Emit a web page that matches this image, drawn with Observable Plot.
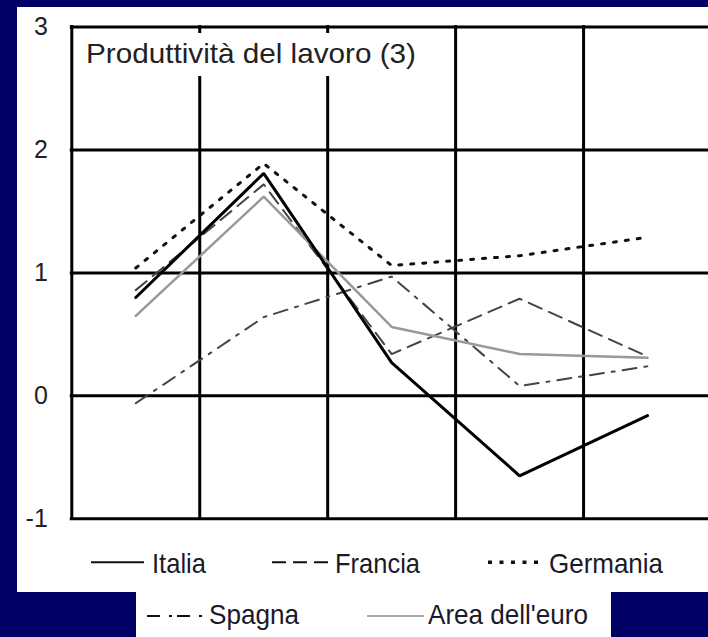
<!DOCTYPE html>
<html>
<head>
<meta charset="utf-8">
<script src="https://cdn.jsdelivr.net/npm/d3@7"></script>
<script src="https://cdn.jsdelivr.net/npm/@observablehq/plot@0.6"></script>
<style>
  html, body { margin: 0; padding: 0; }
  body { width: 708px; height: 637px; background: #000066; position: relative; overflow: hidden;
         font-family: "Liberation Sans", Arial, Helvetica, sans-serif; }
  #panel { position: absolute; left: 17px; top: 7px; width: 691px; height: 585px; background: #fff; }
  #panel2 { position: absolute; left: 136px; top: 592px; width: 475px; height: 45px; background: #fff; }
  #chart { position: absolute; left: 17px; top: 7px; }
  #overlay { position: absolute; left: 0; top: 0; pointer-events: none; }
</style>
</head>
<body>
<div id="panel"></div>
<div id="panel2"></div>
<div id="chart"></div>
<svg id="overlay" width="708" height="637"></svg>
<script>
// ---- data ----
const periods = [1, 2, 3, 4, 5];
const italia   = [0.80, 1.81, 0.27, -0.65, -0.16];
const francia  = [0.86, 1.72, 0.34, 0.79, 0.32];
const germania = [1.04, 1.89, 1.06, 1.14, 1.29];
const spagna   = [-0.06, 0.64, 0.97, 0.08, 0.24];
const euro     = [0.65, 1.62, 0.56, 0.34, 0.31];
const seriesNames = ["Italia", "Francia", "Germania", "Spagna", "Area dell'euro"];
const yTicks = [-1, 0, 1, 2, 3];
const yTickLabels = ["-1", "0", "1", "2", "3"];
const titleText = "Produttività del lavoro (3)";

// ---- styles ----
const styles = {
  "Italia":         {stroke: "#000", strokeWidth: 3,   dash: null,       legendWidth: 2,   legendDash: null},
  "Francia":        {stroke: "#444", strokeWidth: 2,   dash: "14,8",     legendWidth: 2,   legendDash: "14,7"},
  "Germania":       {stroke: "#111", strokeWidth: 3,   dash: "3,9",      legendWidth: 3.5, legendDash: "4,7.5"},
  "Spagna":         {stroke: "#444", strokeWidth: 2,   dash: "14,8,3,8", legendWidth: 2,   legendDash: "13,9,3,5"},
  "Area dell'euro": {stroke: "#999", strokeWidth: 2.5, dash: null,       legendWidth: 2,   legendDash: null}
};
const values = {"Italia": italia, "Francia": francia, "Germania": germania, "Spagna": spagna, "Area dell'euro": euro};

// band boundaries between periods
const xBounds = periods.map(p => p - 0.5).concat([periods[periods.length - 1] + 0.5]);

const drawOrder = ["Spagna", "Francia", "Germania", "Area dell'euro", "Italia"];

const chart = Plot.plot({
  width: 691,
  height: 585,
  marginLeft: 54.3,
  marginRight: 0,
  marginTop: 19.5,
  marginBottom: 73.7,
  style: {background: "white", fontSize: "25px", fontFamily: "'Liberation Sans', Arial, sans-serif", color: "#222", overflow: "hidden"},
  x: {domain: [xBounds[0], xBounds[xBounds.length - 1]], range: [54.3, 694], axis: null},
  y: {domain: [-1, 3], ticks: yTicks, tickSize: 0, tickPadding: 24, tickFormat: d => yTickLabels[yTicks.indexOf(d)], label: null},
  marks: [
    Plot.ruleY(yTicks, {stroke: "#000", strokeWidth: 3, strokeLinecap: "square"}),
    Plot.ruleX(xBounds, {stroke: "#000", strokeWidth: 3, strokeLinecap: "square"}),
    ...drawOrder.map(name => Plot.line(periods, {
      x: d => d,
      y: (d, i) => values[name][i],
      stroke: styles[name].stroke,
      strokeWidth: styles[name].strokeWidth,
      strokeDasharray: styles[name].dash,
      strokeLinejoin: "miter"
    }))
  ]
});
document.getElementById("chart").appendChild(chart);

// ---- title box and legend overlay ----
const svg = d3.select("#overlay");
const fontFam = "'Liberation Sans', Arial, sans-serif";

svg.append("rect").attr("x", 75).attr("y", 33).attr("width", 352).attr("height", 43).attr("fill", "#fff");
svg.append("text").attr("x", 86).attr("y", 63.3).attr("font-size", 28).attr("font-family", fontFam)
  .attr("fill", "#222").attr("textLength", 330).attr("lengthAdjust", "spacingAndGlyphs").text(titleText);

const legendLayout = [
  {x1: 91,  x2: 144, y: 562.3, tx: 152, ty: 572.7, tw: 54},
  {x1: 272, x2: 328, y: 562.3, tx: 335, ty: 572.7, tw: 85},
  {x1: 488, x2: 538, y: 562.3, tx: 549, ty: 572.7, tw: 114},
  {x1: 147, x2: 203, y: 616,   tx: 209, ty: 624,   tw: 90},
  {x1: 367, x2: 424, y: 616,   tx: 428, ty: 624,   tw: 160}
];
seriesNames.forEach((name, i) => {
  const L = legendLayout[i], s = styles[name];
  svg.append("line").attr("x1", L.x1).attr("x2", L.x2).attr("y1", L.y).attr("y2", L.y)
    .attr("stroke", name === "Area dell'euro" ? "#aaa" : "#111")
    .attr("stroke-width", s.legendWidth)
    .attr("stroke-dasharray", s.legendDash);
  svg.append("text").attr("x", L.tx).attr("y", L.ty).attr("font-size", 28).attr("font-family", fontFam)
    .attr("fill", "#1a1a2a").attr("textLength", L.tw).attr("lengthAdjust", "spacingAndGlyphs").text(name);
});
</script>
</body>
</html>
